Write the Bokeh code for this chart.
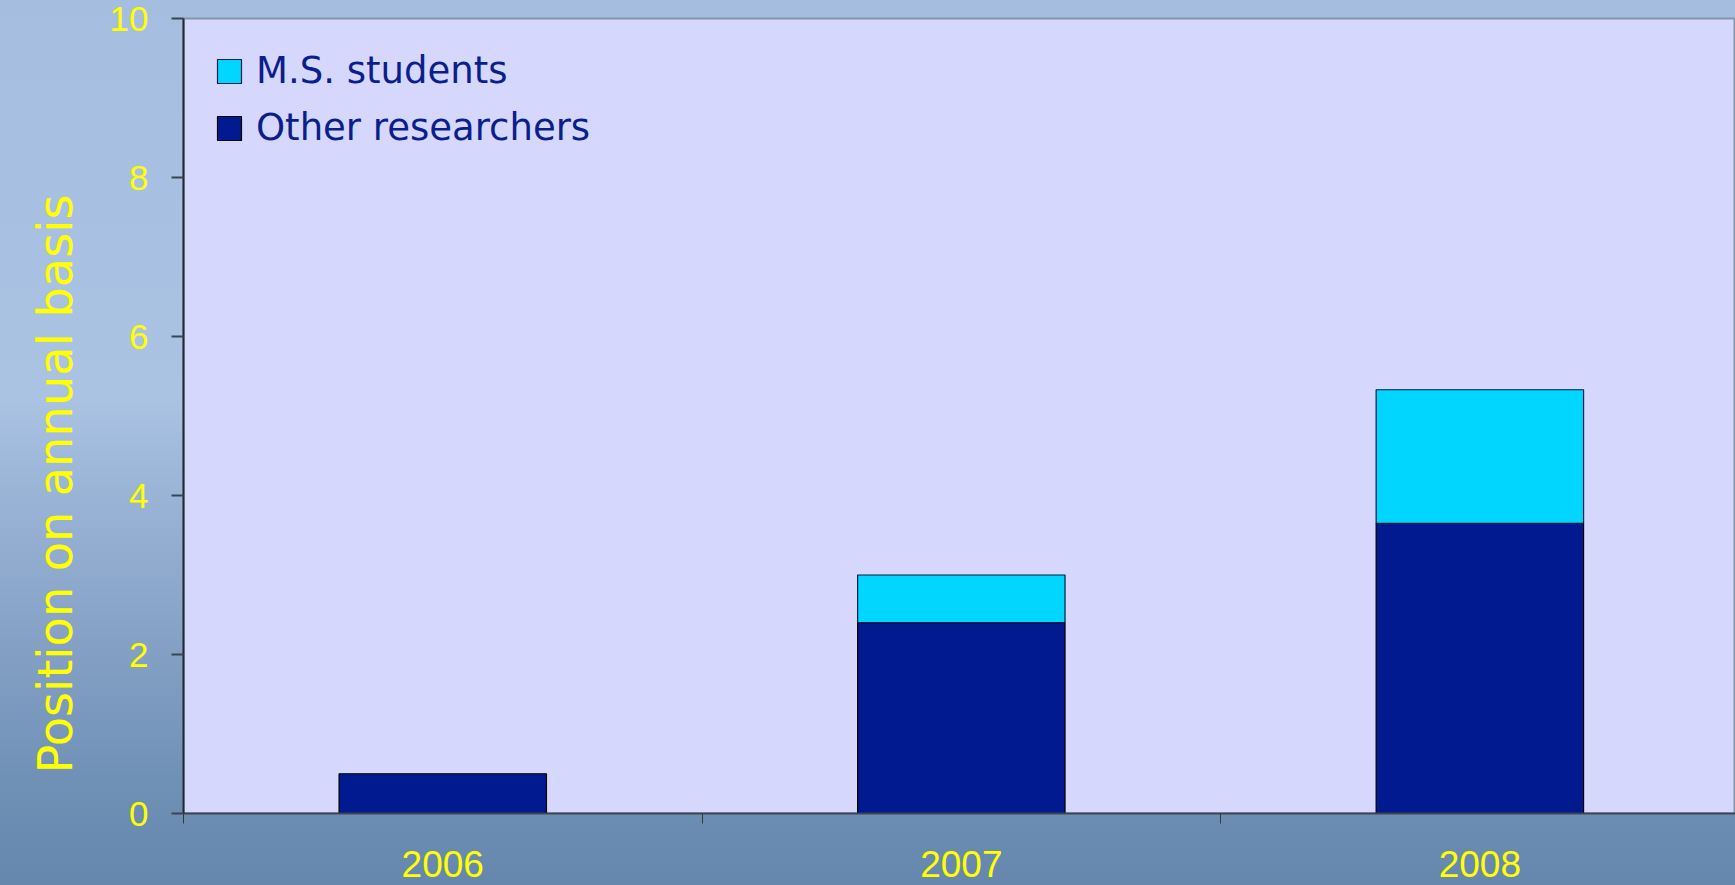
from bokeh.plotting import figure
from bokeh.models import Range1d, FixedTicker, ColumnDataSource, Legend, LegendItem, Title
from bokeh.embed import file_html
from bokeh.resources import INLINE

# ---- data ----
years = ["2006", "2007", "2008"]
other_researchers = [0.5, 2.4, 3.65]
ms_students = [0.0, 0.6, 1.68]
y_ticks = [0, 2, 4, 6, 8, 10]
y_title = "Position on annual basis"

x_pos = [i + 0.5 for i in range(len(years))]
ms_top = [o + m for o, m in zip(other_researchers, ms_students)]

NAVY = "#021A90"
CYAN = "#00D6FF"
YELLOW = "#FFFF00"

p = figure(width=1735, height=885, output_backend="svg", toolbar_location=None,
           x_range=Range1d(0, 2.993), y_range=Range1d(0, 10),
           min_border_left=183, min_border_right=0, min_border_top=18, min_border_bottom=72)

p.background_fill_color = "#D6D7FC"
p.border_fill_color = None
p.styles = {"background": "linear-gradient(to bottom, #a5bee0 0%, #aac3e3 45%, #9bb5d7 55%, #88a4c8 70%, #7091b6 88%, #6687ad 100%)"}
p.outline_line_color = "#8494aa"
p.outline_line_width = 2
p.xgrid.grid_line_color = None
p.ygrid.grid_line_color = None

src_o = ColumnDataSource(dict(x=x_pos, top=other_researchers))
keep = [i for i, m in enumerate(ms_students) if m > 0]
src_m = ColumnDataSource(dict(x=[x_pos[i] for i in keep],
                              bottom=[other_researchers[i] for i in keep],
                              top=[ms_top[i] for i in keep]))

r_o = p.vbar(x="x", top="top", bottom=0, width=0.4, source=src_o,
             fill_color=NAVY, line_color="#000000", line_width=1.2)
r_m = p.vbar(x="x", bottom="bottom", top="top", width=0.4, source=src_m,
             fill_color=CYAN, line_color="#0a1a40", line_width=1.2)

# x axis: labels at category centres, ticks at category boundaries
xa = p.xaxis[0]
xa.ticker = FixedTicker(ticks=x_pos, minor_ticks=list(range(len(years) + 1)))
xa.major_label_overrides = {x: y for x, y in zip(x_pos, years)}
xa.major_tick_line_color = None
xa.major_tick_out = 0
xa.minor_tick_in = 0
xa.minor_tick_out = 10
xa.minor_tick_line_color = "#303840"
xa.axis_line_color = "#3a4452"
xa.axis_line_width = 2
xa.major_label_text_color = YELLOW
xa.major_label_text_font = "Liberation Sans"
xa.major_label_text_font_size = "37px"
xa.major_label_standoff = 27

ya = p.yaxis[0]
ya.ticker = FixedTicker(ticks=y_ticks, minor_ticks=[])
ya.major_tick_in = 0
ya.major_tick_out = 12
ya.major_tick_line_color = "#3a4452"
ya.major_tick_line_width = 2
ya.axis_line_color = "#202830"
ya.axis_line_width = 2
ya.major_label_text_color = YELLOW
ya.major_label_text_font = "Liberation Sans"
ya.major_label_text_font_size = "35px"
ya.major_label_standoff = 23

p.add_layout(Title(text=y_title, align="left", offset=40, standoff=47,
                   text_color=YELLOW, text_font="DejaVu Sans", text_font_style="normal",
                   text_font_size="48px"), "left")

legend = Legend(items=[LegendItem(label="M.S. students", renderers=[r_m]),
                       LegendItem(label="Other researchers", renderers=[r_o])],
                location="top_left")
legend.background_fill_alpha = 0
legend.border_line_color = None
legend.label_text_color = "#0A1E8C"
legend.label_text_font = "DejaVu Sans"
legend.label_text_font_size = "37px"
legend.glyph_width = 30
legend.glyph_height = 30
legend.label_height = 30
legend.spacing = 14
legend.margin = 31
legend.padding = 15
legend.label_standoff = 12
p.add_layout(legend)

open("out.html", "w").write(file_html(p, INLINE))
